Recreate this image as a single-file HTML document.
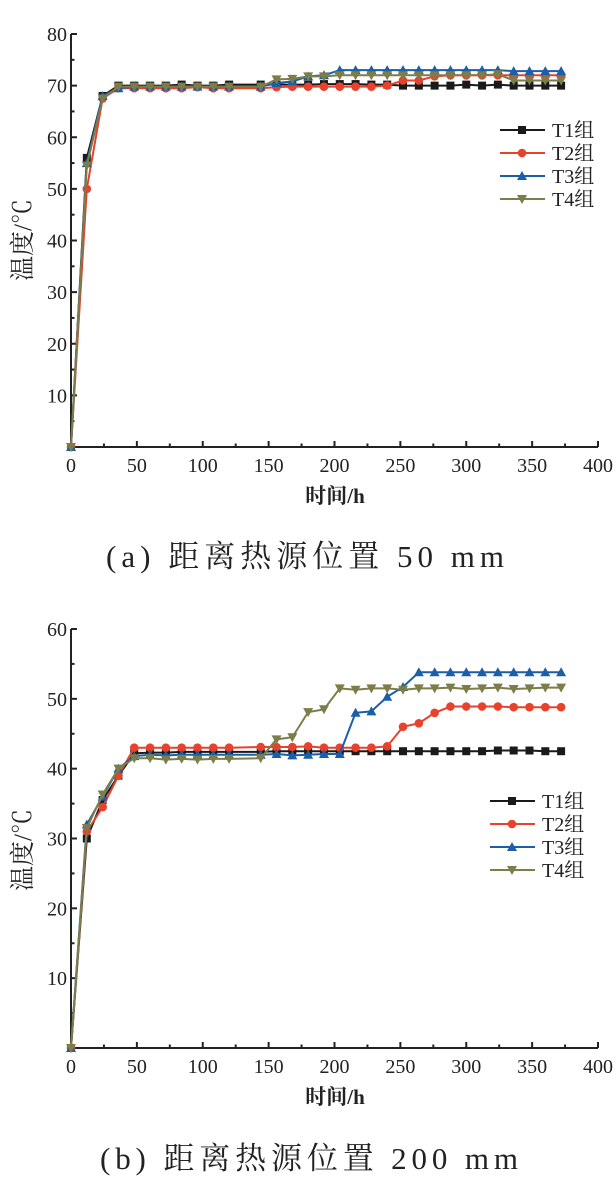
<!DOCTYPE html>
<html><head><meta charset="utf-8">
<style>
html,body{margin:0;padding:0;background:#fff;}
svg{display:block;}
text{font-family:"Liberation Serif","Noto Serif CJK SC",serif;fill:#222;}
</style></head>
<body>
<svg id="root" width="616" height="1195" viewBox="0 0 616 1195"></svg>
<script>
const times=[0,12,24,36,48,60,72,84,96,108,120,144,156,168,180,192,204,216,228,240,252,264,276,288,300,312,324,336,348,360,372];
const seriesNames=["T1组","T2组","T3组","T4组"];
const xTicks=[0,50,100,150,200,250,300,350,400];
const yTicksA=[10,20,30,40,50,60,70,80];
const yTicksB=[10,20,30,40,50,60];
const a_T1=[0,56,68,70,70,70,70,70.2,70,70,70.2,70.2,70.2,70.2,70.2,70.3,70.3,70.3,70.2,70.2,70,70,70,70,70.2,70,70.2,70,70,70,70];
const a_T2=[0,50,67.5,69.5,69.5,69.5,69.5,69.5,69.7,69.5,69.5,69.5,69.7,69.8,69.8,69.8,69.8,69.8,69.8,70,71,71,71.8,72,72,72,72,72,72,72,72];
const a_T3=[0,55,68,69.5,69.8,69.8,69.8,69.8,69.8,69.8,69.8,69.8,70.5,70.8,71.8,72,73,73,73,73,73,73,73,73,73,73,73,72.8,72.8,72.8,72.8];
const a_T4=[0,54.5,67.5,69.8,69.8,69.8,69.8,69.8,69.8,69.8,69.8,69.8,71.2,71.3,71.8,71.8,72,72,72,72,72,72,72,72,72,72,72.2,71,71,71,71];
const b_T1=[0,30,35.5,39,42.2,42.3,42.3,42.4,42.4,42.4,42.4,42.4,42.5,42.5,42.5,42.5,42.5,42.5,42.5,42.5,42.5,42.5,42.5,42.5,42.5,42.5,42.6,42.6,42.6,42.5,42.5];
const b_T2=[0,31,34.5,39,43,43,43,43,43,43,43,43.1,43.1,43.1,43.2,43,43,43,43,43.2,46,46.5,48,48.9,48.9,48.9,48.9,48.8,48.8,48.8,48.8];
const b_T3=[0,32,36,40,41.8,42,41.9,42,42,42,42,42,42.1,41.9,42,42.1,42.1,48,48.2,50.3,51.7,53.8,53.8,53.8,53.8,53.8,53.8,53.8,53.8,53.8,53.8];
const b_T4=[0,31.5,36.3,40,41.5,41.5,41.3,41.4,41.3,41.4,41.4,41.5,44.2,44.5,48.1,48.5,51.5,51.3,51.5,51.5,51.3,51.5,51.5,51.6,51.4,51.5,51.6,51.4,51.5,51.6,51.6];

const NS="http://www.w3.org/2000/svg";
const root=document.getElementById('root');
const colors=["#1a1a1a","#e8412c","#1a5fa8","#7d7d4a"];
const markers=["square","circle","up","down"];
function mk(tag,attrs,parent){const e=document.createElementNS(NS,tag);for(const k in attrs)e.setAttribute(k,attrs[k]);(parent||root).appendChild(e);return e;}
function marker(g,type,x,y,c){
  let e;
  if(type==="square")e=mk('rect',{x:x-4,y:y-4,width:8,height:8,fill:c},g);
  else if(type==="circle")e=mk('circle',{cx:x,cy:y,r:4.3,fill:c},g);
  else if(type==="up")e=mk('polygon',{points:`${x},${y-5} ${x+5},${y+4} ${x-5},${y+4}`,fill:c},g);
  else e=mk('polygon',{points:`${x-5},${y-4} ${x+5},${y-4} ${x},${y+5}`,fill:c},g);
  
  
}
function chart(cfg){
  const g=mk('g',{});
  
  
  const X=v=>cfg.x0+(v/400)*(cfg.x1-cfg.x0);
  const Y=v=>cfg.y0-(v/cfg.ymax)*(cfg.y0-cfg.y1);
  const ax=mk('path',{d:`M${X(0)},${Y(cfg.ymax)} L${X(0)},${Y(0)} L${X(400)},${Y(0)}`,stroke:"#222","stroke-width":2,fill:"none"},g);
  
  
  for(let v=0;v<=400;v+=25){const maj=v%50===0;mk('line',{x1:X(v),x2:X(v),y1:Y(0),y2:Y(0)-(maj?6:3.5),stroke:"#222","stroke-width":2},g);}
  for(let v=0;v<=cfg.ymax;v+=5){const maj=v%10===0;mk('line',{x1:X(0),x2:X(0)+(maj?6:3.5),y1:Y(v),y2:Y(v),stroke:"#222","stroke-width":2},g);}
  xTicks.forEach(v=>{const t=mk('text',{x:X(v),y:Y(0)+25,"text-anchor":"middle","font-size":20},g);t.textContent=v;
    });
  cfg.yTicks.forEach(v=>{const t=mk('text',{x:X(0)-4,y:Y(v)+7,"text-anchor":"end","font-size":20},g);t.textContent=v;
    });
  const xt=mk('text',{x:335,y:Y(0)+56,"text-anchor":"middle","font-size":21,"font-family":"'Noto Sans CJK SC',sans-serif","font-weight":"bold"},g);
  xt.textContent="时间/h";
  const yt=mk('text',{x:0,y:0,"text-anchor":"middle","font-size":25,transform:`translate(31,${cfg.ylabY}) rotate(-90)`},g);
  yt.textContent="温度/℃";
  cfg.series.forEach((s,i)=>{
    const pts=times.map((t,j)=>X(t)+","+Y(s[j])).join(" ");
    const pl=mk('polyline',{points:pts,fill:"none",stroke:colors[i],"stroke-width":2},g);
    
    times.forEach((t,j)=>marker(g,markers[i],X(t),Y(s[j]),colors[i]));
  });
  seriesNames.forEach((n,i)=>{
    const ly=cfg.legY+i*23;
    const lg=mk('g',{},g);
    mk('line',{x1:cfg.legX,x2:cfg.legX+45,y1:ly,y2:ly,stroke:colors[i],"stroke-width":2},lg);
    marker(lg,markers[i],cfg.legX+22,ly,colors[i]);
    const t=mk('text',{x:cfg.legX+52,y:ly+7,"font-size":20},lg);t.textContent=n;
  });
  const cap=mk('text',{x:cfg.capX,y:cfg.capY,"font-size":31,textLength:cfg.capW,lengthAdjust:"spacing"},g);
  cap.textContent=cfg.caption;
}
chart({name:"chart-a",x0:71,x1:598,y0:447,y1:34,ymax:80,yTicks:yTicksA,series:[a_T1,a_T2,a_T3,a_T4],legX:500,legY:130,ylabY:240,caption:"(a) 距离热源位置 50 mm",capX:106,capW:398,capY:567});
chart({name:"chart-b",x0:71,x1:598,y0:1048,y1:629,ymax:60,yTicks:yTicksB,series:[b_T1,b_T2,b_T3,b_T4],legX:490,legY:801,ylabY:850,caption:"(b) 距离热源位置 200 mm",capX:100,capW:418,capY:1169});
</script>
</body></html>
